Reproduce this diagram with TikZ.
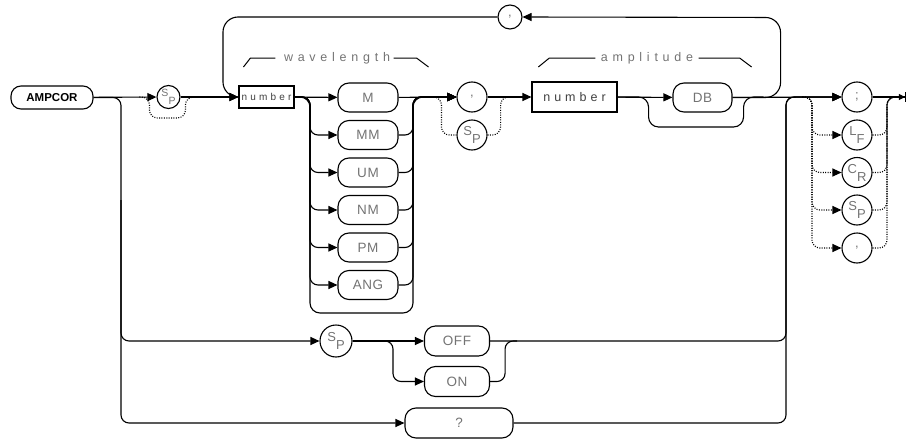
\documentclass[tikz,border=0pt]{standalone}
\usepackage{fontspec}
\setmainfont{Liberation Sans}
\newfontfamily\wide[LetterSpace=38]{Liberation Sans}
\newfontfamily\numf[LetterSpace=32]{Liberation Sans}
\newfontfamily\keyf[LetterSpace=4]{Liberation Sans}
\usetikzlibrary{arrows.meta}
\newcommand{\duo}[2]{\raisebox{4pt}{#1}\raisebox{-4pt}{#2}}

\begin{document}
\begin{tikzpicture}[x=1pt, y=-1pt, line width=1.1pt,
    >={Triangle[length=9pt,width=8pt]},
    key/.style={draw, rounded corners=11pt, minimum width=60pt, minimum height=29pt,
        inner sep=0pt, font=\keyf\fontsize{13.5}{13.5}\selectfont, text=black!55},
    num/.style={draw, rectangle, minimum height=30pt, inner sep=0pt,
        font=\numf\fontsize{12.5}{12.5}\selectfont, text=black!75},
    chr/.style={draw, circle, minimum size=30pt, inner sep=0pt,
        font=\fontsize{13}{13}\selectfont, text=black!55},
    opt/.style={dash pattern=on 1pt off 1.4pt},
    tag/.style={inner sep=0pt, font=\wide\fontsize{12.5}{12.5}\selectfont, text=black!55}]
    \useasboundingbox (0,0) rectangle (908,439);

    \node[draw, rounded corners=10pt, minimum width=82pt, minimum height=23pt, inner sep=0pt,
        font=\bfseries\fontsize{11.5}{11.5}\selectfont] (cmd) at (52,97.5) {AMPCOR};
    \node[chr, minimum size=23pt, font=\fontsize{10.5}{10.5}\selectfont] (sp1) at (168.5,97) {\duo{S}{P}};
    \node[num, minimum width=55pt, minimum height=22pt, font=\numf\fontsize{10}{10}\selectfont] (num1) at (266.5,97) {number};
    \foreach \u/\y [count=\i] in {M/97.5, MM/135, UM/172.5, NM/210, PM/247.5, ANG/285}
        \node[key] (u\i) at (368,\y) {\u};
    \node[chr] (comma1) at (472,97) {,};
    \node[chr] (sp2) at (472,135) {\duo{S}{P}};
    \node[num, minimum width=85pt] (num2) at (574.5,97) {number};
    \node[key, minimum width=59pt] (db) at (702.5,97.5) {DB};
    \node[chr, minimum size=24pt] (comma0) at (510,17) {,};
    \node[tag] (wav) at (337,58) {wavelength};
    \node[tag] (amp) at (647,58) {amplitude};

    \node[chr, minimum size=32pt] (sp3) at (336,341) {\duo{S}{P}};
    \node[key, minimum width=65pt, minimum height=30pt] (off) at (457,341) {OFF};
    \node[key, minimum width=65pt, minimum height=30pt] (on) at (457,381.5) {ON};
    \node[key, minimum width=108pt, minimum height=30pt] (qm) at (459,423) {?};

    \node[chr] (semi) at (857,97) {;};
    \node[chr] (lf) at (857,135) {\duo{L}{F}};
    \node[chr] (cr) at (857,172.5) {\duo{C}{R}};
    \node[chr] (sp4) at (857,210) {\duo{S}{P}};
    \node[chr] (comma2) at (857,248) {,};

    \coordinate (lft) at (121,200);
    \coordinate (lp) at (223,97);
    \coordinate (wl) at (310,313);
    \coordinate (wr) at (413,313);
    \coordinate (sw) at (393,360);
    \coordinate (rt) at (786,250);
    \coordinate (tl) at (812,97);
    \coordinate (tr) at (887,97);
    \coordinate (fin) at (906,97);

    \draw[->] (cmd) -- (sp1);
    \draw[->, rounded corners=8] (cmd.east) -| (lft) |- (sp3.west);
    \draw[->, rounded corners=8] (lft) |- (qm.west);
    \draw[opt, rounded corners=8] (sp1.west) ++(-17,0) -| ++(10,21) -| ++(36,-21) -- ++(10,0);
    \draw[->] (sp1) -- (num1);

    \draw[->] (num1) -- (u1);
    \draw[->] (u1) -- (comma1);
    \foreach \i in {2,...,6} {
        \draw[->, rounded corners=8] (num1.east) -| (wl |- u\i.west) -- (u\i.west);
        \draw[->, rounded corners=8] (u\i.east) -| (wr |- comma1.west) -- (comma1.west);
    }
    \draw[->, rounded corners=10] (num1.east) -| (wl) -- (wr) |- (comma1.west);
    \draw[line width=1pt] (wav.west) ++(-8,0) -- ++(-25,0) -- ++(-7,9);
    \draw[line width=1pt] (wav.east) ++(3,0) -- ++(23,0) -- ++(12,9);

    \draw[->] (comma1) -- (num2);
    \draw[opt, rounded corners=8] (sp2.west) ++(-25,-38) -| ++(10,38) -- (sp2.west);
    \draw[opt, rounded corners=8] (sp2.east) -| ++(13,-38) -- ++(10,0);
    \draw[->] (num2) -- (db);
    \draw[rounded corners=10] (num2.east) -| ++(31,30) -| ++(95,-30) -- ++(20,0);
    \draw[line width=1pt] (amp.west) ++(-5,0) -- ++(-46,0) -- ++(-11,9);
    \draw[line width=1pt] (amp.east) ++(5,0) -- ++(41,0) -- ++(12,9);

    \draw[->, rounded corners=15] (db.east) -| ++(48,-80) -- (comma0.east);
    \draw[->, rounded corners=15] (comma0.west) -| (lp) -- (num1.west);

    \draw[->] (sp3) -- (off);
    \draw[->, rounded corners=8] (sp3.east) -| (sw) |- (on.west);
    \draw[rounded corners=8] (on.east) -| ++(15,-40.5) -- ++(12,0);
    \draw[->] (db) -- (semi);
    \draw[->, rounded corners=8] (off.east) -| (rt) |- (semi.west);
    \draw[->, rounded corners=8] (qm.east) -| (rt) |- (semi.west);

    \draw[-{Triangle[length=6pt,width=6pt]Bar[width=10pt]}] (semi) -- (fin);
    \foreach \n in {lf,cr,sp4,comma2} {
        \draw[opt, ->, rounded corners=8] (semi.west) ++(-39,0) -| (tl |- \n.west) -- (\n.west);
        \draw[opt, rounded corners=8] (\n.east) -| (tr) -- ++(10,0);
    }
\end{tikzpicture}
\end{document}
